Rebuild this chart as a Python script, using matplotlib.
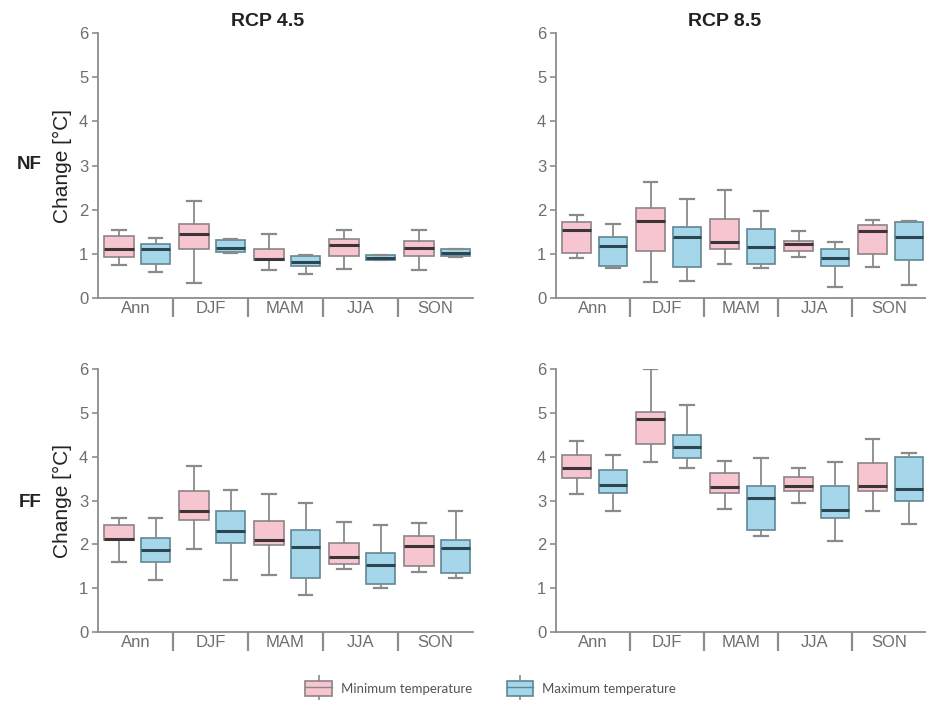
import matplotlib
matplotlib.use('Agg')
import matplotlib.pyplot as plt
from matplotlib.lines import Line2D
from matplotlib.patches import Patch

plt.rcParams['font.family'] = ['Liberation Sans', 'DejaVu Sans']

SEASONS = ['Ann', 'DJF', 'MAM', 'JJA', 'SON']

# each row: whisker low, Q1, median, Q3, whisker high
NF45_MIN = [[0.74, 0.93, 1.12, 1.40, 1.55],
            [0.34, 1.10, 1.44, 1.68, 2.20],
            [0.64, 0.85, 0.89, 1.10, 1.44],
            [0.66, 0.95, 1.21, 1.33, 1.53],
            [0.64, 0.95, 1.14, 1.30, 1.55]]
NF45_MAX = [[0.59, 0.78, 1.10, 1.23, 1.36],
            [1.02, 1.04, 1.14, 1.31, 1.33],
            [0.55, 0.73, 0.82, 0.95, 0.97],
            [0.86, 0.87, 0.91, 0.97, 0.98],
            [0.93, 0.95, 1.01, 1.10, 1.12]]
NF85_MIN = [[0.90, 1.03, 1.53, 1.73, 1.88],
            [0.36, 1.07, 1.75, 2.03, 2.63],
            [0.78, 1.12, 1.26, 1.79, 2.44],
            [0.92, 1.07, 1.22, 1.28, 1.52],
            [0.71, 0.99, 1.52, 1.66, 1.77]]
NF85_MAX = [[0.67, 0.72, 1.18, 1.38, 1.68],
            [0.38, 0.71, 1.37, 1.60, 2.25],
            [0.69, 0.77, 1.16, 1.56, 1.97],
            [0.24, 0.72, 0.91, 1.10, 1.26],
            [0.30, 0.87, 1.38, 1.73, 1.74]]
FF45_MIN = [[1.60, 2.09, 2.13, 2.45, 2.60],
            [1.90, 2.56, 2.75, 3.22, 3.78],
            [1.31, 1.99, 2.11, 2.54, 3.16],
            [1.44, 1.56, 1.71, 2.02, 2.52],
            [1.37, 1.50, 1.97, 2.18, 2.49]]
FF45_MAX = [[1.19, 1.60, 1.88, 2.14, 2.60],
            [1.19, 2.03, 2.31, 2.75, 3.25],
            [0.85, 1.23, 1.93, 2.32, 2.94],
            [1.00, 1.10, 1.52, 1.80, 2.45],
            [1.23, 1.35, 1.92, 2.10, 2.76]]
FF85_MIN = [[3.15, 3.52, 3.75, 4.04, 4.36],
            [3.87, 4.29, 4.87, 5.03, 6.01],
            [2.81, 3.18, 3.30, 3.62, 3.91],
            [2.95, 3.22, 3.32, 3.53, 3.74],
            [2.77, 3.22, 3.34, 3.85, 4.40]]
FF85_MAX = [[2.76, 3.17, 3.35, 3.70, 4.04],
            [3.74, 3.96, 4.23, 4.50, 5.18],
            [2.18, 2.33, 3.05, 3.32, 3.98],
            [2.08, 2.61, 2.79, 3.33, 3.87],
            [2.46, 3.00, 3.26, 4.00, 4.08]]

PINK = '#f6c5d0'
PINK_EDGE = '#8e8387'
PINK_MED = '#3b3537'
BLUE = '#a6d6ea'
BLUE_EDGE = '#5f8795'
BLUE_MED = '#2b4650'
WHISK = '#8a8a8a'
SPINE = '#8c8c8c'
TICK_TXT = '#6e6e6e'
INK = '#222222'


def to_stats(rows):
    return [dict(whislo=r[0], q1=r[1], med=r[2], q3=r[3], whishi=r[4], fliers=[])
            for r in rows]


def draw_boxes(ax, rows, offset, face, edge, med):
    pos = [i + offset for i in range(len(rows))]
    ax.bxp(to_stats(rows), positions=pos, widths=0.39, capwidths=0.18,
           patch_artist=True, showfliers=False, manage_ticks=False,
           boxprops=dict(facecolor=face, edgecolor=edge, linewidth=1.2),
           medianprops=dict(color=med, linewidth=2.2),
           whiskerprops=dict(color=WHISK, linewidth=1.3),
           capprops=dict(color=WHISK, linewidth=1.6))


def style_panel(ax, ylabel):
    ax.set_xlim(-0.5, len(SEASONS) - 0.5)
    ax.set_ylim(0, 6)
    ax.set_yticks(range(7))
    ax.set_xticks(range(len(SEASONS)))
    ax.set_xticklabels(SEASONS)
    ax.set_xticks([i + 0.5 for i in range(len(SEASONS) - 1)], minor=True)
    ax.tick_params(axis='x', which='major', length=0, pad=2, labelsize=12, labelcolor=TICK_TXT)
    ax.tick_params(axis='x', which='minor', length=14, width=1.6, color=SPINE)
    ax.tick_params(axis='y', length=4, width=1.2, color=SPINE, pad=3, labelsize=12,
                   labelcolor=TICK_TXT)
    for side in ('top', 'right'):
        ax.spines[side].set_visible(False)
    for side in ('left', 'bottom'):
        ax.spines[side].set_color(SPINE)
        ax.spines[side].set_linewidth(1.3)
    if ylabel:
        ax.set_ylabel('Change [°C]', fontsize=15, color=INK, labelpad=5)


fig = plt.figure(figsize=(9.26, 7.01), dpi=100, facecolor='white')
ax_tl = fig.add_axes([0.1058, 0.5749, 0.405, 0.378])
ax_tr = fig.add_axes([0.6004, 0.5749, 0.3996, 0.378])
ax_bl = fig.add_axes([0.1058, 0.0984, 0.405, 0.3752])
ax_br = fig.add_axes([0.6004, 0.0984, 0.3996, 0.3752])

panels = [(ax_tl, NF45_MIN, NF45_MAX, True),
          (ax_tr, NF85_MIN, NF85_MAX, False),
          (ax_bl, FF45_MIN, FF45_MAX, True),
          (ax_br, FF85_MIN, FF85_MAX, False)]
for ax, mins, maxs, ylab in panels:
    draw_boxes(ax, mins, -0.22, PINK, PINK_EDGE, PINK_MED)
    draw_boxes(ax, maxs, 0.27, BLUE, BLUE_EDGE, BLUE_MED)
    style_panel(ax, ylab)

fig.text(0.289, 0.969, 'RCP 4.5', ha='center', va='center', fontsize=14, fontweight='bold', color=INK)
fig.text(0.783, 0.969, 'RCP 8.5', ha='center', va='center', fontsize=14, fontweight='bold', color=INK)
fig.text(0.031, 0.765, 'NF', ha='center', va='center', fontsize=13.5, fontweight='bold', color=INK)
fig.text(0.033, 0.283, 'FF', ha='center', va='center', fontsize=13.5, fontweight='bold', color=INK)


def legend_handle(face, edge):
    stub = Line2D([], [], linestyle='none', marker='|', markersize=18,
                  markeredgewidth=1.2, markeredgecolor=WHISK)
    box = Patch(facecolor=face, edgecolor=edge, linewidth=1.2)
    mid = Line2D([], [], color=edge, linewidth=1.0)
    return (stub, box, mid)


handles = [legend_handle(PINK, PINK_EDGE), legend_handle(BLUE, BLUE_EDGE)]
fig.legend(handles, ['Minimum temperature', 'Maximum temperature'], loc='center',
           bbox_to_anchor=(0.530, 0.018), ncol=2, frameon=False,
           labelcolor='#555555', handlelength=2.0, handleheight=1.4,
           handletextpad=0.7, columnspacing=2.6,
           prop={'family': 'Lato', 'size': 9.5})

fig.savefig('out.png', dpi=100, facecolor='white')
